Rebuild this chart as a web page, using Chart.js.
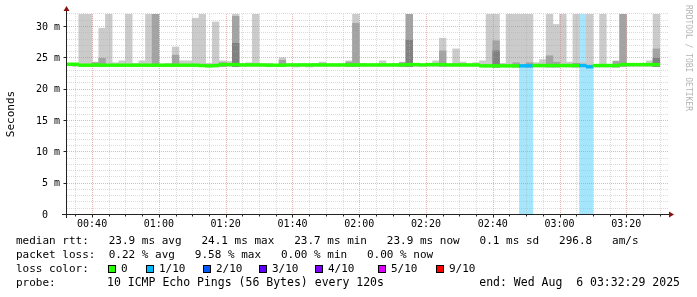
<!DOCTYPE html>
<html><head><meta charset="utf-8">
<script src="https://cdn.jsdelivr.net/npm/chart.js@4/dist/chart.umd.min.js"></script>
<style>html,body{margin:0;padding:0;background:#fff;}canvas{display:block}</style>
</head><body>
<canvas id="c" width="697" height="297"></canvas>
<script>
// ---- data (120 s steps, start time of each step) ----
const stepStarts = ["00:32","00:34","00:36","00:38","00:40","00:42","00:44","00:46","00:48","00:50",
"00:52","00:54","00:56","00:58","01:00","01:02","01:04","01:06","01:08","01:10",
"01:12","01:14","01:16","01:18","01:20","01:22","01:24","01:26","01:28","01:30",
"01:32","01:34","01:36","01:38","01:40","01:42","01:44","01:46","01:48","01:50",
"01:52","01:54","01:56","01:58","02:00","02:02","02:04","02:06","02:08","02:10",
"02:12","02:14","02:16","02:18","02:20","02:22","02:24","02:26","02:28","02:30",
"02:32","02:34","02:36","02:38","02:40","02:42","02:44","02:46","02:48","02:50",
"02:52","02:54","02:56","02:58","03:00","03:02","03:04","03:06","03:08","03:10",
"03:12","03:14","03:16","03:18","03:20","03:22","03:24","03:26","03:28"];
// smoke: lowest ping (ms)
const smokeLow = [23.8,23.7,23.7,23.7,23.7,23.7,23.7,23.7,23.7,23.7,
23.7,23.7,23.7,23.7,23.7,23.7,23.7,23.7,23.7,23.7,
23.7,23.6,23.6,23.7,23.7,23.7,23.7,23.7,23.7,23.7,
23.7,23.7,23.7,23.7,23.6,23.7,23.6,23.7,23.7,23.7,
23.7,23.7,23.7,23.7,23.7,23.7,23.7,23.7,23.7,23.7,
23.7,23.7,23.7,23.7,23.7,23.7,23.7,23.7,23.7,23.7,
23.7,23.7,23.6,23.6,23.6,23.6,23.6,23.6,23.6,23.6,
23.6,23.6,23.6,23.6,23.6,23.6,23.6,23.6,23.5,23.6,
23.6,23.6,23.6,23.7,23.7,23.7,23.7,23.7,23.7];
// smoke: highest ping (ms)
const smokeHigh = [24.2,24.1,32.1,32.1,24.4,29.8,32.1,24.3,24.6,32.1,
24.2,24.6,32.1,32.1,24.1,24.2,26.8,24.6,24.6,31.4,
32.1,24.2,30.8,24.6,24.5,32.1,24.1,24.3,32.1,24.0,
24.2,24.0,25.1,24.0,24.0,24.1,24.0,24.2,24.4,24.0,
24.0,24.0,24.6,32.1,24.2,24.0,24.0,24.6,24.0,24.2,
24.4,32.1,24.0,24.0,24.1,24.6,28.2,24.0,26.5,24.4,
24.0,24.3,24.6,32.1,32.1,24.2,32.1,32.1,32.1,32.1,
24.3,24.8,32.1,30.4,32.1,24.4,32.1,24.4,32.1,24.0,
32.1,24.0,24.6,32.1,24.0,24.0,24.0,24.6,32.1];
// smoke: upper edge of the denser (mid grey) band, null = none
const smokeMid = [null,null,null,null,24.3,25.0,null,null,null,null,
null,null,null,32.1,null,null,25.5,null,null,null,
null,null,null,24.3,null,31.7,null,null,null,null,
null,null,24.7,null,null,null,null,null,null,null,
null,null,24.4,30.6,null,null,null,null,null,null,
24.3,32.1,null,null,null,null,26.2,null,null,null,
null,null,null,null,27.8,null,null,24.3,null,24.3,
null,null,25.4,24.4,null,null,24.2,null,null,null,
null,null,24.5,32.1,null,null,null,null,26.5];
// smoke: upper edge of the densest (dark grey) band, null = none
const smokeDark = [null,null,null,null,null,null,null,null,null,null,
null,null,null,null,null,null,null,null,null,null,
null,null,null,null,null,27.4,null,null,null,null,
null,null,null,null,null,null,null,null,null,null,
null,null,null,null,null,null,null,null,null,null,
null,27.9,null,null,null,null,null,null,null,null,
null,null,null,null,26.2,null,null,null,null,null,
null,null,null,null,null,null,null,null,null,null,
null,null,null,null,null,null,null,null,25.0];
// median rtt (ms)
const medianRtt = [24.05,24.05,23.9,23.9,23.95,23.9,23.9,23.9,23.9,23.9,
23.9,23.9,23.9,23.9,23.9,23.9,23.9,23.9,23.9,23.9,
23.85,23.8,23.85,24.0,24.0,24.0,23.95,23.95,23.95,23.95,
23.9,23.9,23.9,23.95,23.95,23.95,23.95,23.95,23.95,23.95,
23.95,23.95,23.95,23.95,23.95,23.95,23.95,23.95,23.95,23.95,
23.95,24.0,24.0,23.95,24.0,24.0,24.0,23.95,23.95,23.95,
23.95,23.95,23.8,23.8,23.8,23.8,23.8,23.8,23.8,23.8,
23.85,23.85,23.85,23.85,23.85,23.85,23.85,23.85,23.65,23.85,
23.85,23.85,23.85,24.0,24.0,24.0,24.0,24.0,24.0];
// lost pings out of 10 per step
const lostPings = [0,0,0,0,0,0,0,0,0,0, 0,0,0,0,0,0,0,0,0,0, 0,0,0,0,0,0,0,0,0,0,
0,0,0,0,0,0,0,0,0,0, 0,0,0,0,0,0,0,0,0,0, 0,0,0,0,0,0,0,0,0,0,
0,0,0,0,0,0,0,0,1,1, 0,0,0,0,0,0,0,1,1,0, 0,0,0,0,0,0,0,0,0];

const xTickLabels = ["00:40","01:00","01:20","01:40","02:00","02:20","02:40","03:00","03:20"];
const yTickValues = [0,5,10,15,20,25,30];
const yTickLabels = ["0  ","5 m","10 m","15 m","20 m","25 m","30 m"];
const lossLegendLabels = ["0","1/10","2/10","3/10","4/10","5/10","9/10"];
const lossLegendColors = ["#26ff00","#00b8ff","#0059ff","#5e00ff","#7e00ff","#dd00ff","#ff0000"];
const rttLine  = "median rtt:   23.9 ms avg   24.1 ms max   23.7 ms min   23.9 ms now   0.1 ms sd   296.8   am/s";
const lossLine = "packet loss:  0.22 % avg   9.58 % max   0.00 % min   0.00 % now";
const probeText = "10 ICMP Echo Pings (56 Bytes) every 120s";
const endText = "end: Wed Aug  6 03:32:29 2025";

// ---- helpers ----
const toMin = s => { const [h,m] = s.split(":").map(Number); return h*60+m; };
const centers = stepStarts.map(s => toMin(s) + 1);
const tStart = 32 + 29/60, tEnd = tStart + 180;
const yMax = 32.07;

const MONO = '"DejaVu Sans Mono", monospace';

const dsLoss = {
  label:'loss', order:5, grouped:false, barPercentage:1, categoryPercentage:1,
  backgroundColor:'#a6e6fc',
  data: centers.map((c,i) => lostPings[i] > 0 ? {x:c, y:[0, yMax+1]} : null).filter(Boolean)
};
const dsLight = {
  label:'smokeLight', order:4, grouped:false, barPercentage:1, categoryPercentage:1,
  backgroundColor:'#cbcbcb',
  data: centers.map((c,i) => ({x:c, y:[smokeLow[i], smokeHigh[i]]}))
};
const dsMid = {
  label:'smokeMid', order:3, grouped:false, barPercentage:1, categoryPercentage:1,
  backgroundColor:'#a3a3a3',
  data: centers.map((c,i) => smokeMid[i] != null ? {x:c, y:[smokeLow[i], smokeMid[i]]} : null).filter(Boolean)
};
const dsDark = {
  label:'smokeDark', order:2, grouped:false, barPercentage:1, categoryPercentage:1,
  backgroundColor:'#808080',
  data: centers.map((c,i) => smokeDark[i] != null ? {x:c, y:[smokeLow[i], smokeDark[i]]} : null).filter(Boolean)
};
const dsMedian = {
  label:'median', order:0, grouped:false, barPercentage:1, categoryPercentage:1,
  backgroundColor: lostPings.map(l => lossLegendColors[Math.min(l, 6)]),
  data: centers.map((c,i) => ({x:c, y:[medianRtt[i]-0.22, medianRtt[i]+0.22]}))
};

function crisp(v){ return Math.round(v) + 0.5; }

const MAJOR = 'rgba(220,120,120,0.55)';
const MINOR = 'rgba(175,175,175,0.45)';

const gridPlugin = {
  id:'rrdGrid',
  beforeDatasetDraw(chart, args){
    if (chart.data.datasets[args.index].label !== 'median') return;
    const {ctx, chartArea:a, scales:{x, y}} = chart;
    ctx.save();
    ctx.lineWidth = 1;
    ctx.setLineDash([1,1]);
    for (let v = 1; v <= 32; v++) {
      const py = crisp(y.getPixelForValue(v)) - 1;
      ctx.strokeStyle = (v % 5 === 0) ? MAJOR : MINOR;
      ctx.beginPath(); ctx.moveTo(a.left, py); ctx.lineTo(a.right, py); ctx.stroke();
    }
    for (let m = 35; m <= 210; m += 5) {
      const px = crisp(x.getPixelForValue(m));
      ctx.strokeStyle = (m % 20 === 0) ? MAJOR : MINOR;
      ctx.beginPath(); ctx.moveTo(px, a.top); ctx.lineTo(px, a.bottom); ctx.stroke();
    }
    ctx.restore();
  },
  afterDraw(chart){
    const {ctx, chartArea:a, scales:{x, y}} = chart;
    ctx.save();
    ctx.setLineDash([]);
    ctx.strokeStyle = '#222'; ctx.lineWidth = 1;
    const by = crisp(a.bottom) - 1, lx = crisp(a.left) - 1;
    ctx.beginPath(); ctx.moveTo(a.left - 5, by); ctx.lineTo(a.right + 2, by); ctx.stroke();
    ctx.beginPath(); ctx.moveTo(lx, a.bottom + 3); ctx.lineTo(lx, a.top - 3); ctx.stroke();
    for (let m = 35; m <= 210; m += 5) {
      const px = crisp(x.getPixelForValue(m));
      ctx.beginPath(); ctx.moveTo(px, by); ctx.lineTo(px, by + (m % 20 === 0 ? 3 : 2)); ctx.stroke();
    }
    for (const v of yTickValues) {
      const py = crisp(y.getPixelForValue(v)) - 1;
      ctx.beginPath(); ctx.moveTo(lx - 3, py); ctx.lineTo(lx, py); ctx.stroke();
    }
    ctx.fillStyle = '#8b1010';
    ctx.beginPath(); ctx.moveTo(a.right + 6, by); ctx.lineTo(a.right + 1, by - 3); ctx.lineTo(a.right + 1, by + 3); ctx.closePath(); ctx.fill();
    ctx.beginPath(); ctx.moveTo(lx, a.top - 8); ctx.lineTo(lx - 3, a.top - 3); ctx.lineTo(lx + 3, a.top - 3); ctx.closePath(); ctx.fill();

    ctx.fillStyle = '#000';
    ctx.font = '10px ' + MONO;
    ctx.textAlign = 'right'; ctx.textBaseline = 'middle';
    yTickValues.forEach((v,i) => ctx.fillText(yTickLabels[i], 60, y.getPixelForValue(v)));
    ctx.textAlign = 'center';
    xTickLabels.forEach(l => ctx.fillText(l, x.getPixelForValue(toMin(l)), 224));

    ctx.save();
    ctx.font = '11px ' + MONO;
    ctx.translate(11, 114); ctx.rotate(-Math.PI/2);
    ctx.textAlign = 'center'; ctx.textBaseline = 'middle';
    ctx.fillText('Seconds', 0, 0);
    ctx.restore();

    ctx.save();
    ctx.font = '8px ' + MONO;
    ctx.fillStyle = '#b4b4b4';
    ctx.translate(688, 5); ctx.rotate(Math.PI/2);
    ctx.textAlign = 'left'; ctx.textBaseline = 'middle';
    ctx.fillText('RRDTOOL / TOBI OETIKER', 0, 0);
    ctx.restore();

    ctx.font = '11px ' + MONO;
    ctx.fillStyle = '#000';
    ctx.textAlign = 'left'; ctx.textBaseline = 'middle';
    ctx.fillText(rttLine, 16, 241);
    ctx.fillText(lossLine, 16, 255);
    ctx.fillText('loss color:', 16, 269);
    const boxX = [108, 146, 203, 259, 315, 378, 436];
    lossLegendLabels.forEach((lab, i) => {
      ctx.fillStyle = lossLegendColors[i];
      ctx.fillRect(boxX[i], 265, 8, 8);
      ctx.strokeStyle = '#000'; ctx.lineWidth = 1;
      ctx.strokeRect(boxX[i] + 0.5, 265.5, 7, 7);
      ctx.fillStyle = '#000';
      ctx.fillText(lab, boxX[i] + 13, 269);
    });
    ctx.fillText('probe:', 16, 283);
    ctx.font = '11.5px ' + MONO;
    ctx.fillText(probeText, 107, 283);
    ctx.textAlign = 'right';
    ctx.fillText(endText, 680, 283);
    ctx.restore();
  }
};

new Chart(document.getElementById('c'), {
  type:'bar',
  data:{ datasets:[dsMedian, dsDark, dsMid, dsLight, dsLoss] },
  options:{
    responsive:false, animation:false,
    layout:{ padding:{ left:0, right:29, top:14, bottom:0 } },
    scales:{
      x:{ type:'linear', min:tStart, max:tEnd, offset:false,
          grid:{display:false}, border:{display:false}, ticks:{display:false},
          afterFit: s => { s.height = 82; } },
      y:{ type:'linear', min:0, max:yMax,
          grid:{display:false}, border:{display:false}, ticks:{display:false},
          afterFit: s => { s.width = 67; } }
    },
    plugins:{ legend:{display:false}, tooltip:{enabled:false} }
  },
  plugins:[gridPlugin]
});
</script>
</body></html>
